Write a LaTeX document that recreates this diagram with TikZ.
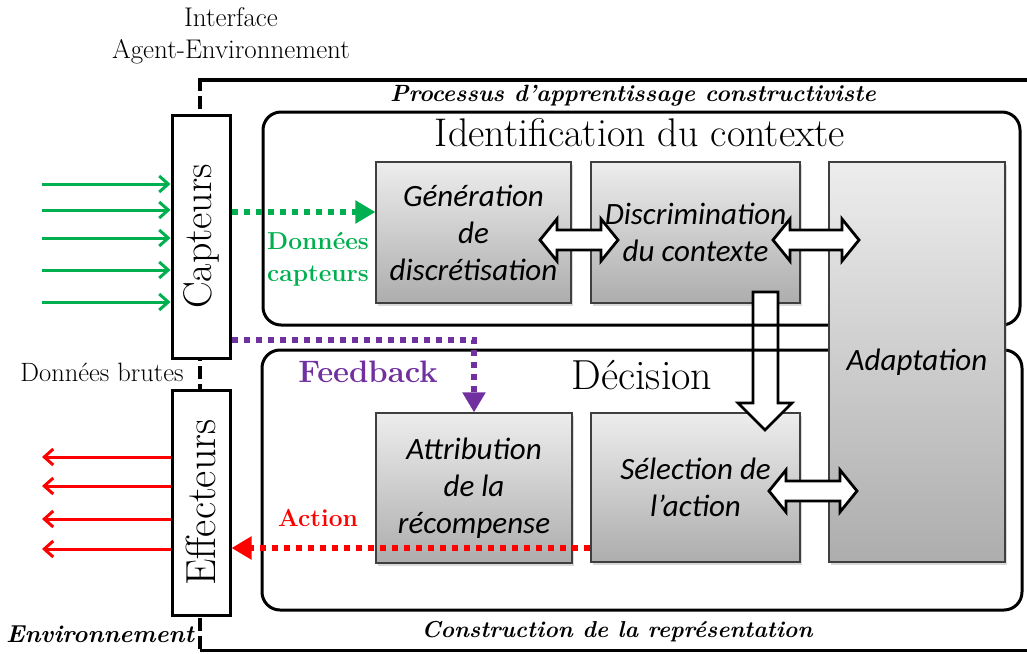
\documentclass[tikz,border=0pt]{standalone}
\usepackage{fontspec}
\newfontfamily\calib{Carlito}
\usetikzlibrary{arrows.meta,shadows,calc}
\definecolor{cgreen}{HTML}{00B050}
\definecolor{cpurple}{HTML}{7030A0}
\definecolor{cred}{HTML}{FF0000}
\definecolor{gtop}{HTML}{EDEDED}
\definecolor{gbot}{HTML}{ADADAD}
\definecolor{gedge}{HTML}{3F3F3F}
\newcommand\dblarrow[3]{%
  \draw[blockarrow] (#1,#3) -- (#1+17,#3-21) -- (#1+17,#3-10) -- (#2-17,#3-10) -- (#2-17,#3-21) -- (#2,#3)
   -- (#2-17,#3+21) -- (#2-17,#3+10) -- (#1+17,#3+10) -- (#1+17,#3+21) -- cycle;}
\begin{document}
\begin{tikzpicture}[x=1pt,y=-1pt,
  graybox/.style={draw=gedge, line width=1.2pt, top color=gtop, bottom color=gbot,
    drop shadow={opacity=0.3,shadow xshift=2pt,shadow yshift=-3pt},
    font=\calib\itshape\fontsize{31}{37}\selectfont, align=center, inner sep=0pt},
  roundbox/.style={draw, line width=3pt, rounded corners=18pt, inner sep=0pt},
  interbox/.style={draw, fill=white, line width=3pt, inner sep=0pt, minimum width=58pt},
  blockarrow/.style={draw=black, fill=white, line width=2.8pt, line join=miter},
  thinarrow/.style={line width=3pt, -{Straight Barb[length=9pt,width=16pt,line width=3pt]}},
  dotarrow/.style={line width=6pt, dash pattern=on 6pt off 6pt, -{Triangle[length=20pt,width=22pt]}},
  serif/.style={font=\fontsize{27}{32}\selectfont, align=center},
  bititle/.style={font=\bfseries\itshape\fontsize{23.5}{26}\selectfont}
]
\useasboundingbox (0,0) rectangle (1027,653);
% outer frame
\draw[line width=4pt] (200,80) -- (1027,80);
\draw[line width=3pt] (200,650) -- (1027,650);
\draw[line width=4pt, dash pattern=on 13pt off 5pt] (200,78) -- (200,653);
% gray boxes
\node[graybox, minimum width=195pt, minimum height=141pt] (gen) at (473.5,232.5) {Génération\\de\\discrétisation};
\node[graybox, minimum width=209pt, minimum height=141pt] (disc) at (695.5,232.5) {Discrimination\\du contexte};
\node[graybox, minimum width=196pt, minimum height=150pt] (attr) at (474,488) {Attribution\\de la\\récompense};
\node[graybox, minimum width=209pt, minimum height=149pt] (sel) at (695.5,487.5) {Sélection de\\l’action};
% down arrow
\draw[blockarrow] (753,292) -- (778,292) -- (778,403) -- (792,403) -- (765,430) -- (738,403) -- (753,403) -- cycle;
% rounded boxes
\node[roundbox, minimum width=757pt, minimum height=213pt] (ident) at (641.5,218.5) {};
\node[roundbox, minimum width=760pt, minimum height=260pt] (deci) at (642,480) {};
% adaptation
\node[graybox, minimum width=176pt, minimum height=400pt] (adapt) at (917,362) {Adaptation};
% double arrows
\dblarrow{540}{618}{240}
\dblarrow{773}{859}{240}
\dblarrow{769}{857}{491}
% interface boxes
\node[interbox, minimum height=243pt] (caps) at (201,236.5) {};
\node[rotate=90, font=\fontsize{40}{44}\selectfont] at (caps.center) {Capteurs};
\node[interbox, minimum height=225pt] (eff) at (201,502.5) {};
\node[rotate=90, font=\fontsize{42}{44}\selectfont] at (eff.center) {Effecteurs};
% texts
\node[serif] (iface) at (231,36) {Interface\\Agent-Environnement};
\node[font=\fontsize{26.5}{28}\selectfont] (brutes) at (102,372) {Données brutes};
\node[font=\bfseries\itshape\fontsize{24.5}{28}\selectfont] (envt) at (100,634) {Environnement};
\node[bititle] (proc) at (633,96) {Processus d’apprentissage constructiviste};
\node[bititle, font=\bfseries\itshape\fontsize{23}{26}\selectfont] (constr) at (617,632) {Construction de la représentation};
\node[font=\fontsize{40}{44}\selectfont] (identt) at (640,133) {Identification du contexte};
\node[font=\fontsize{42}{44}\selectfont] (decit) at (642,375) {Décision};
\node[font=\bfseries\fontsize{31}{32}\selectfont, text=cpurple] (fb) at (368,372) {Feedback};
\node[font=\bfseries\fontsize{24.5}{32}\selectfont, text=cgreen, align=center] (dc) at (318,259) {Données\\capteurs};
\node[font=\bfseries\fontsize{24.5}{28}\selectfont, text=cred] (act) at (318,518) {Action};
% green input arrows
\foreach \yy [count=\i] in {184,210,238,270,302}{
  \coordinate (gin\i) at (42,\yy);
  \draw[thinarrow, cgreen] (gin\i) -- (caps.west |- gin\i);
}
% red output arrows
\foreach \yy [count=\i] in {457,486,519,549}{
  \coordinate (rout\i) at (42,\yy);
  \draw[thinarrow, cred] (eff.west |- rout\i) -- (rout\i);
}
% dotted connectors
\draw[dotarrow, cgreen] (caps.east |- 0,212) -- (gen.west |- 0,212);
\draw[dotarrow, cpurple] (caps.east |- 0,340) -| (attr.north);
\draw[dotarrow, cred] (sel.west |- 0,548) -- (eff.east |- 0,548);
\end{tikzpicture}
\end{document}
